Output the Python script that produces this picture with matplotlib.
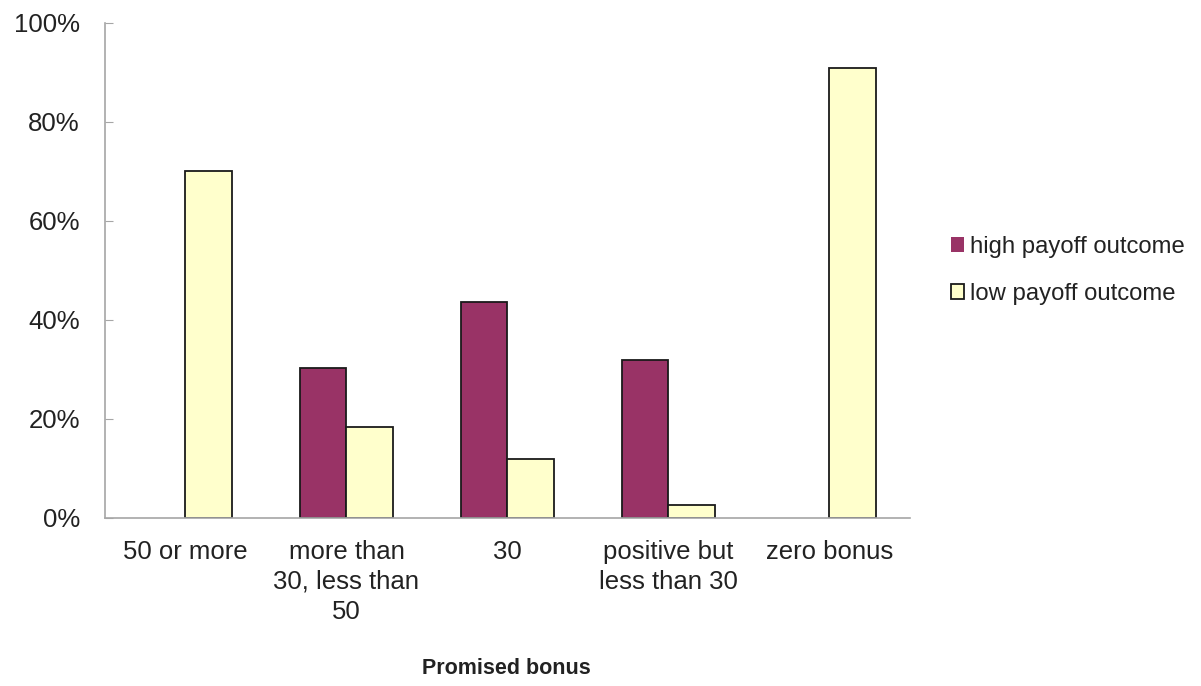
import matplotlib

matplotlib.use("Agg")
import matplotlib.pyplot as plt
import numpy as np
from matplotlib.ticker import PercentFormatter

categories = [
    "50 or more",
    "more than\n30, less than\n50",
    "30",
    "positive but\nless than 30",
    "zero bonus",
]
high_payoff = [0.0, 30.3, 43.6, 31.9, 0.0]
low_payoff = [70.0, 18.4, 12.0, 2.6, 91.0]
series_labels = ["high payoff outcome", "low payoff outcome"]
series_colors = ["#993366", "#FFFFCC"]

plt.rcParams["font.family"] = ["Liberation Sans", "DejaVu Sans"]
text_color = "#222222"
axis_color = "#a6a6a6"

fig = plt.figure(figsize=(12.01, 6.86), dpi=100)
ax = fig.add_axes([0.0874, 0.2449, 0.6703, 0.7216])

x = np.arange(len(categories))
width = 0.29

# zero-height bars get no outline so they don't leave a line on the axis
for offset, values, color, label in [
    (-width / 2, high_payoff, series_colors[0], series_labels[0]),
    (width / 2, low_payoff, series_colors[1], series_labels[1]),
]:
    lw = [1.3 if v > 0 else 0 for v in values]
    ax.bar(x + offset, values, width, color=color, edgecolor="#1a1a1a",
           linewidth=lw, label=label)

ax.set_xlim(-0.5, len(categories) - 0.5)
ax.set_ylim(0, 100)
ax.set_yticks(np.arange(0, 101, 20))
ax.yaxis.set_major_formatter(PercentFormatter(decimals=0))

ax.set_xticks(x)
ax.set_xticklabels(categories, linespacing=1.3)

for side in ["top", "right"]:
    ax.spines[side].set_visible(False)
for side in ["left", "bottom"]:
    ax.spines[side].set_color(axis_color)
    ax.spines[side].set_linewidth(1.2)

ax.tick_params(axis="y", direction="in", length=6, color=axis_color,
               labelsize=18.5, labelcolor=text_color, pad=18)
ax.tick_params(axis="x", length=0, labelsize=18.5, labelcolor=text_color, pad=16)

fig.text(0.422, 1 - 669 / 686, "Promised bonus", ha="center", va="center",
         fontsize=15.5, fontweight="bold", color=text_color)

leg = ax.legend(loc="center left", bbox_to_anchor=(0.792, 0.6057),
                bbox_transform=fig.transFigure, frameon=False, fontsize=17.2,
                handlelength=0.55, handleheight=0.55, handletextpad=0.25,
                labelspacing=1.05, borderpad=0, borderaxespad=0)
for txt in leg.get_texts():
    txt.set_color(text_color)

fig.savefig("out.png", dpi=100)
